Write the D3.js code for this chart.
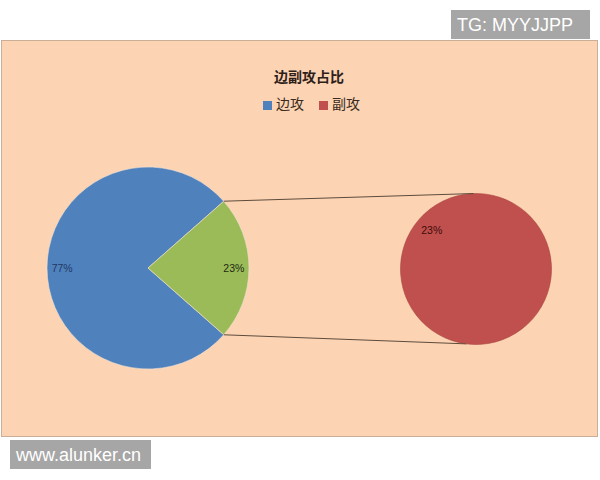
<!DOCTYPE html>
<html lang="zh">
<head>
  <meta charset="UTF-8">
  <title>边副攻占比</title>
  <script src="https://cdnjs.cloudflare.com/ajax/libs/d3/7.8.5/d3.min.js"></script>
  <style>
    body { margin: 0; background: #fff; }
    svg { display: block; }
  </style>
</head>
<body>
  <script>
    // data
    const categories = ['边攻', '副攻'];
    const shares = [77, 23];                 // main pie: 边攻 vs grouped 副攻
    const mainLabels = ['77%', '23%'];
    const subShares = [23];                  // second pie: only 副攻
    const subLabels = ['23%'];

    const width = 600, height = 480;

    const svg = d3.select('body')
      .append('svg')
      .attr('width', width)
      .attr('height', height);

    // chart area
    svg.append('rect')
      .attr('x', 1.5).attr('y', 40.5)
      .attr('width', 596).attr('height', 396)
      .attr('fill', '#fcd4b4')
      .attr('stroke', '#c9ae98');

    // title
    svg.append('text')
      .attr('x', 309).attr('y', 82)
      .attr('text-anchor', 'middle')
      .attr('font-family', '"Noto Sans CJK SC", sans-serif')
      .attr('font-weight', 'bold')
      .attr('font-size', 14)
      .attr('fill', '#2e2018')
      .text('边副攻占比');

    // legend
    const legendColor = d3.scaleOrdinal().domain(categories).range(['#4f81bd', '#c0504d']);
    const legendX = d3.scalePoint().domain(categories).range([263, 319]);
    const legend = svg.append('g').selectAll('g')
      .data(categories)
      .join('g')
      .attr('transform', d => `translate(${legendX(d)},101)`);
    legend.append('rect')
      .attr('width', 9).attr('height', 9)
      .attr('fill', d => legendColor(d));
    legend.append('text')
      .attr('x', 13).attr('y', 8)
      .attr('font-family', '"Noto Sans CJK SC", sans-serif')
      .attr('font-size', 14)
      .attr('fill', '#3a2a20')
      .text(d => d);

    // main pie
    const cx1 = 148, cy1 = 268, r1 = 101;
    const otherSpan = shares[1] / d3.sum(shares) * 2 * Math.PI;
    const start1 = Math.PI / 2 + otherSpan / 2;
    const pie1 = d3.pie().sort(null).startAngle(start1).endAngle(start1 + 2 * Math.PI);
    const arcs1 = pie1(shares);
    const arc1 = d3.arc().innerRadius(0).outerRadius(r1);
    const labelArc1 = d3.arc().innerRadius(r1 * 0.85).outerRadius(r1 * 0.85);
    const mainColors = ['#4f81bd', '#9bbb59'];
    const mainText = ['#1f3864', '#1d2a10'];

    const g1 = svg.append('g').attr('transform', `translate(${cx1},${cy1})`);
    g1.selectAll('path')
      .data(arcs1)
      .join('path')
      .attr('d', arc1)
      .attr('fill', (d, i) => mainColors[i])
      .attr('stroke', '#f4e2d4')
      .attr('stroke-width', 0.6);
    g1.selectAll('text')
      .data(arcs1)
      .join('text')
      .attr('transform', d => `translate(${labelArc1.centroid(d)})`)
      .attr('text-anchor', 'middle')
      .attr('dy', '0.35em')
      .attr('font-family', 'Arial, "Liberation Sans", sans-serif')
      .attr('font-size', 10.5)
      .attr('fill', (d, i) => mainText[i])
      .text((d, i) => mainLabels[i]);

    // second pie
    const cx2 = 476, cy2 = 269, r2 = 75.5;
    const labelAngle = -0.85;
    const pie2 = d3.pie().sort(null).startAngle(labelAngle - Math.PI).endAngle(labelAngle + Math.PI);
    const arcs2 = pie2(subShares);
    const arc2 = d3.arc().innerRadius(0).outerRadius(r2);
    const labelArc2 = d3.arc().innerRadius(r2 * 0.78).outerRadius(r2 * 0.78);

    const g2 = svg.append('g').attr('transform', `translate(${cx2},${cy2})`);
    g2.selectAll('path')
      .data(arcs2)
      .join('path')
      .attr('d', arc2)
      .attr('fill', '#c0504d')
      .attr('stroke', '#a9443f')
      .attr('stroke-width', 0.6);
    g2.selectAll('text')
      .data(arcs2)
      .join('text')
      .attr('transform', d => `translate(${labelArc2.centroid(d)})`)
      .attr('text-anchor', 'middle')
      .attr('dy', '0.35em')
      .attr('font-family', 'Arial, "Liberation Sans", sans-serif')
      .attr('font-size', 10.5)
      .attr('fill', '#3d0c0a')
      .text((d, i) => subLabels[i]);

    // connector lines from the grouped slice to the second pie
    const otherArc = arcs1[1];
    const pTop1 = d3.pointRadial(otherArc.startAngle, r1);   // upper edge of green slice
    const pBot1 = d3.pointRadial(otherArc.endAngle, r1);     // lower edge of green slice
    const pTop2 = d3.pointRadial(-0.03, r2);
    const pBot2 = d3.pointRadial(Math.PI + 0.13, r2);
    const connectors = [[pTop1, pTop2], [pBot1, pBot2]];
    svg.append('g').selectAll('line')
      .data(connectors)
      .join('line')
      .attr('x1', d => cx1 + d[0][0]).attr('y1', d => cy1 + d[0][1])
      .attr('x2', d => cx2 + d[1][0]).attr('y2', d => cy2 + d[1][1])
      .attr('stroke', '#5e4b3c')
      .attr('stroke-width', 1);

    // watermarks
    const marks = [
      { text: 'TG: MYYJJPP', x: 451, y: 10, w: 139, h: 29 },
      { text: 'www.alunker.cn', x: 10, y: 440, w: 141, h: 29 }
    ];
    const wm = svg.append('g').selectAll('g')
      .data(marks)
      .join('g')
      .attr('transform', d => `translate(${d.x},${d.y})`);
    wm.append('rect')
      .attr('width', d => d.w).attr('height', d => d.h)
      .attr('fill', '#a6a6a6');
    wm.append('text')
      .attr('x', 6).attr('y', d => d.h / 2)
      .attr('dy', '0.35em')
      .attr('font-family', '"Liberation Sans", Arial, sans-serif')
      .attr('font-size', 18)
      .attr('fill', '#ffffff')
      .text(d => d.text);
  </script>
</body>
</html>
